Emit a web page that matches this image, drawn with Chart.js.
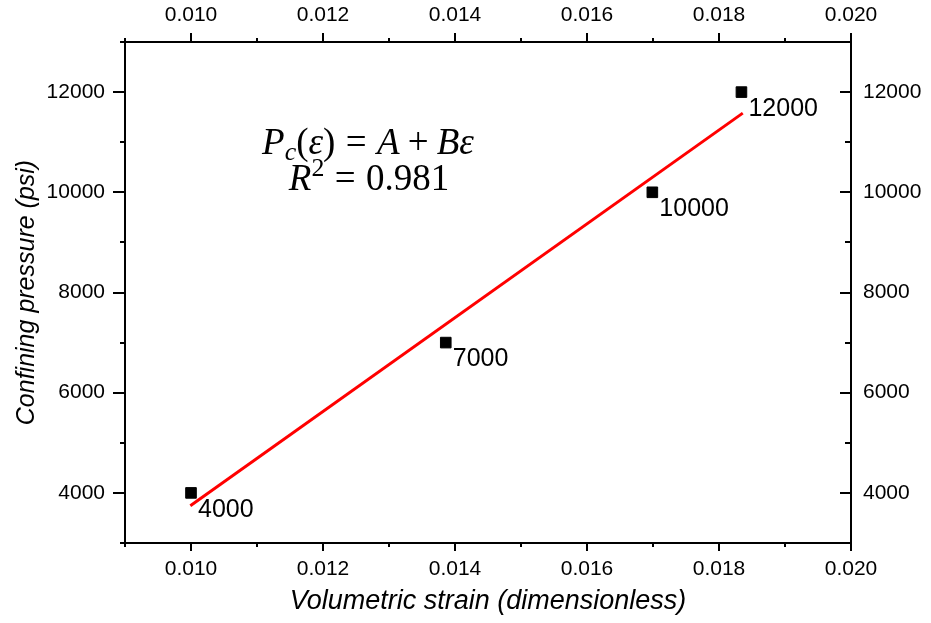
<!DOCTYPE html>
<html>
<head>
<meta charset="utf-8">
<script src="https://cdn.jsdelivr.net/npm/chart.js@4.4.1/dist/chart.umd.min.js"></script>
<style>
  html, body { margin: 0; padding: 0; background: #fff; }
  #wrap { width: 931px; height: 623px; }
</style>
</head>
<body>
<div id="wrap"><canvas id="mycanvas" width="931" height="623"></canvas></div>
<script>
// measured points
const strain = [0.0100, 0.01386, 0.01699, 0.01834];
const pressure = [4000, 7000, 10000, 12000];
const pointLabels = ['4000', '7000', '10000', '12000'];

// linear fit, end points
const fitStrain = [0.00999, 0.01836];
const fitPressure = [3745, 11580];

const xMajorTicks = [0.010, 0.012, 0.014, 0.016, 0.018, 0.020];
const xMinorTicks = [0.009, 0.011, 0.013, 0.015, 0.017, 0.019];
const yMajorTicks = [4000, 6000, 8000, 10000, 12000];
const yMinorTicks = [3000, 5000, 7000, 9000, 11000, 13000];

const sans = "'Liberation Sans', Arial, sans-serif";
const serif = "'Liberation Serif', 'Times New Roman', serif";

function xAxis(position, showTitle, size) {
  return {
    type: 'linear',
    position: position,
    min: 0.009,
    max: 0.020,
    afterBuildTicks: s => { s.ticks = xMajorTicks.map(v => ({ value: v })); },
    afterFit: s => { s.height = size; },
    ticks: { callback: v => v.toFixed(3), color: '#000', padding: 14, font: { family: sans, size: 21 } },
    grid: { display: false, drawTicks: false },
    border: { display: true, color: '#000', width: 2 },
    title: {
      display: showTitle,
      text: 'Volumetric strain (dimensionless)',
      color: '#000',
      padding: { top: 0, bottom: 5 },
      font: { family: sans, size: 27, style: 'italic' }
    }
  };
}

function yAxis(position, showTitle, size, pad) {
  return {
    type: 'linear',
    position: position,
    min: 3000,
    max: 13000,
    afterBuildTicks: s => { s.ticks = yMajorTicks.map(v => ({ value: v })); },
    afterFit: s => { s.width = size; },
    ticks: { callback: v => String(v), color: '#000', padding: pad, font: { family: sans, size: 21 } },
    grid: { display: false, drawTicks: false },
    border: { display: true, color: '#000', width: 2 },
    title: {
      display: showTitle,
      text: 'Confining pressure (psi)',
      color: '#000',
      padding: { top: 12, bottom: 0 },
      font: { family: sans, size: 25, style: 'italic' }
    }
  };
}

// minor + major tick marks, left/top/bottom outward, right inward
const tickMarks = {
  id: 'tickMarks',
  afterDraw(chart) {
    const { ctx, chartArea: a } = chart;
    const sx = chart.scales.x, sy = chart.scales.y;
    ctx.save();
    ctx.strokeStyle = '#000';
    ctx.lineWidth = 2;
    ctx.beginPath();
    const v = (px, y0, y1) => { ctx.moveTo(px, y0); ctx.lineTo(px, y1); };
    const h = (py, x0, x1) => { ctx.moveTo(x0, py); ctx.lineTo(x1, py); };
    xMajorTicks.forEach(t => {
      const px = Math.round(sx.getPixelForValue(t));
      v(px, a.bottom, a.bottom + 8);
      v(px, a.top, a.top - 9);
    });
    xMinorTicks.forEach(t => {
      const px = Math.round(sx.getPixelForValue(t));
      v(px, a.bottom, a.bottom + 4);
      v(px, a.top, a.top - 4);
    });
    yMajorTicks.forEach(t => {
      const py = Math.round(sy.getPixelForValue(t));
      h(py, a.left, a.left - 12);
      h(py, a.right, a.right - 11);
    });
    yMinorTicks.forEach(t => {
      const py = Math.round(sy.getPixelForValue(t));
      h(py, a.left, a.left - 5);
      h(py, a.right, a.right - 6);
    });
    ctx.stroke();
    ctx.restore();
  }
};

// point value labels
const pointText = {
  id: 'pointText',
  afterDatasetsDraw(chart) {
    const ctx = chart.ctx;
    const pts = chart.getDatasetMeta(0).data;
    ctx.save();
    ctx.fillStyle = '#000';
    ctx.font = '25px ' + sans;
    ctx.textAlign = 'left';
    ctx.textBaseline = 'middle';
    pts.forEach((p, i) => ctx.fillText(pointLabels[i], p.x + 7, p.y + 17));
    ctx.restore();
  }
};

// equation text, drawn like TeX
function drawMath(ctx, parts, cx, baseline, size) {
  let w = 0;
  const items = parts.map(p => {
    const s = (p.sub || p.sup) ? size * 0.7 : size;
    const font = (p.it ? 'italic ' : '') + s + 'px ' + serif;
    ctx.font = font;
    const mw = ctx.measureText(p.t).width;
    const gap = (p.gap || 0) * size;
    w += mw + 2 * gap;
    return { p, font, mw, gap };
  });
  let x = cx - w / 2;
  items.forEach(it => {
    x += it.gap;
    ctx.font = it.font;
    let y = baseline;
    if (it.p.sub) y += size * 0.15;
    if (it.p.sup) y -= size * 0.38;
    ctx.fillText(it.p.t, x, y);
    x += it.mw + it.gap;
  });
}

const equation = {
  id: 'equation',
  afterDraw(chart) {
    const ctx = chart.ctx;
    ctx.save();
    ctx.fillStyle = '#000';
    ctx.textAlign = 'left';
    ctx.textBaseline = 'alphabetic';
    const size = 37;
    drawMath(ctx, [
      { t: 'P', it: true }, { t: 'c', it: true, sub: true }, { t: '(' }, { t: 'ε', it: true }, { t: ')' },
      { t: '=', gap: 0.28 }, { t: 'A', it: true }, { t: '+', gap: 0.22 }, { t: 'B', it: true }, { t: 'ε', it: true }
    ], 368, 154, size);
    drawMath(ctx, [
      { t: 'R', it: true }, { t: '2', sup: true }, { t: '=', gap: 0.28 }, { t: '0.981' }
    ], 369, 190, size);
    ctx.restore();
  }
};

new Chart(document.getElementById('mycanvas'), {
  type: 'scatter',
  data: {
    datasets: [
      {
        label: 'Data',
        data: strain.map((s, i) => ({ x: s, y: pressure[i] })),
        pointStyle: 'rect',
        pointRadius: 7.5,
        backgroundColor: '#000',
        borderColor: '#000',
        borderWidth: 1
      },
      {
        label: 'Fit',
        data: fitStrain.map((s, i) => ({ x: s, y: fitPressure[i] })),
        showLine: true,
        pointRadius: 0,
        borderColor: '#ff0000',
        borderWidth: 3,
        fill: false
      }
    ]
  },
  options: {
    responsive: false,
    animation: false,
    layout: { padding: 0 },
    plugins: {
      legend: { display: false },
      tooltip: { enabled: false }
    },
    scales: {
      x: xAxis('bottom', true, 80),
      x2: xAxis('top', false, 42),
      y: yAxis('left', true, 125, 20),
      y2: yAxis('right', false, 80, 12)
    }
  },
  plugins: [tickMarks, pointText, equation]
});
</script>
</body>
</html>
